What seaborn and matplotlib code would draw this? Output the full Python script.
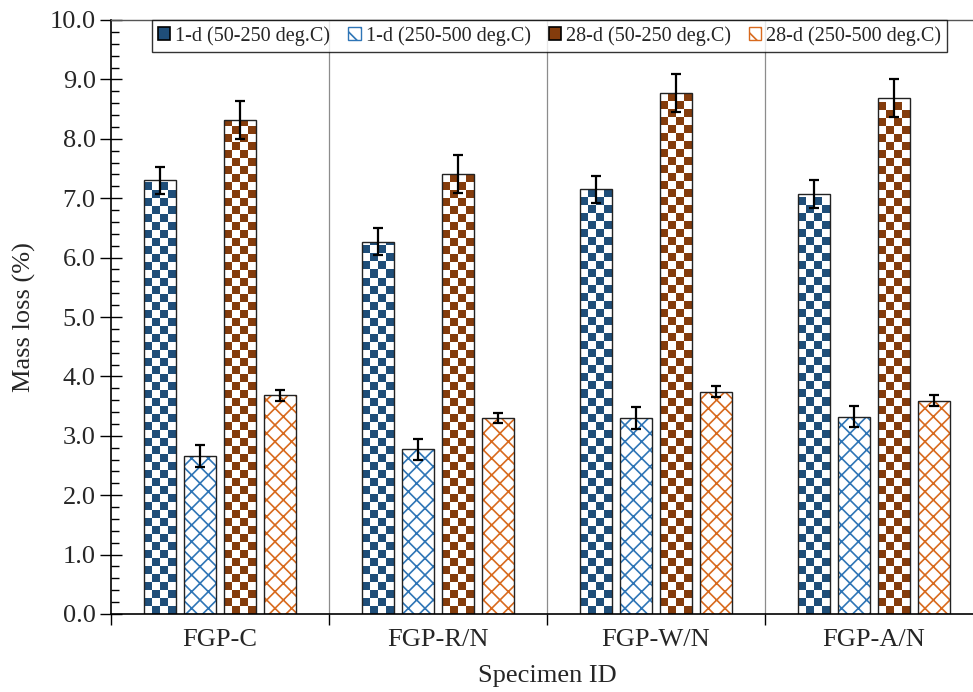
import numpy as np
import pandas as pd
import matplotlib
matplotlib.use("Agg")
import matplotlib.pyplot as plt
from matplotlib.patches import Patch, Rectangle
from matplotlib.colors import ListedColormap
from matplotlib.ticker import MultipleLocator, FixedLocator, NullFormatter
import seaborn as sns

# ---------------- data ----------------
specimens = ["FGP-C", "FGP-R/N", "FGP-W/N", "FGP-A/N"]
series = ["1-d (50-250 deg.C)", "1-d (250-500 deg.C)",
          "28-d (50-250 deg.C)", "28-d (250-500 deg.C)"]
d1_low = [7.30, 6.27, 7.15, 7.07]
d1_high = [2.66, 2.77, 3.30, 3.32]
d28_low = [8.31, 7.40, 8.77, 8.68]
d28_high = [3.68, 3.30, 3.74, 3.59]
err_d1_low = [0.23, 0.23, 0.23, 0.23]
err_d1_high = [0.18, 0.18, 0.18, 0.18]
err_d28_low = [0.32, 0.32, 0.32, 0.32]
err_d28_high = [0.09, 0.09, 0.09, 0.09]

values = [d1_low, d1_high, d28_low, d28_high]
errors = [err_d1_low, err_d1_high, err_d28_low, err_d28_high]
colors = ["#1F4E79", "#2E75B6", "#843C0C", "#D86A1E"]
checker = [True, False, True, False]

rows = []
for s, vals in zip(series, values):
    for sp, v in zip(specimens, vals):
        rows.append({"Specimen": sp, "Series": s, "Mass": v})
df = pd.DataFrame(rows)

# ---------------- style ----------------
sns.set_theme(style="white")
plt.rcParams["font.family"] = ["Liberation Serif", "DejaVu Serif"]
plt.rcParams["hatch.linewidth"] = 1.2

W, H = 973, 692
fig = plt.figure(figsize=(W / 100, H / 100), dpi=100)
ax_left, ax_bottom = 111 / W, 78 / H
ax_w, ax_h = 872 / W, 594 / H
ax = fig.add_axes([ax_left, ax_bottom, ax_w, ax_h])

sns.barplot(data=df, x="Specimen", y="Mass", hue="Series", order=specimens,
            hue_order=series, palette=colors, width=0.73, gap=0.2,
            errorbar=None, legend=False, ax=ax)

ax.set_xlim(-0.5, 3.5)
ax.set_ylim(0, 10)

px_x = ax_w * W / 4.0      # pixels per x data unit
px_y = ax_h * H / 10.0     # pixels per y data unit
sq = 8.0                   # checker square size in pixels

bars = ax.patches[:16]
for si in range(4):
    for ci in range(4):
        p = bars[si * 4 + ci]
        x0, y0 = p.get_x(), p.get_y()
        w, h = p.get_width(), p.get_height()
        if checker[si]:
            p.set_facecolor("white")
            p.set_edgecolor("none")
            nx = max(1, int(round(w * px_x / sq)))
            ny = max(1, int(round(h * px_y / sq)))
            arr = (np.add.outer(np.arange(ny), np.arange(nx)) % 2)
            cmap = ListedColormap(["white", colors[si]])
            im = ax.imshow(arr, extent=(x0, x0 + w, y0, y0 + ny * sq / px_y),
                           origin="lower", cmap=cmap, interpolation="nearest",
                           aspect="auto", zorder=p.get_zorder() + 0.1)
            im.set_clip_path(p)
        else:
            p.set_facecolor("white")
            p.set_edgecolor(colors[si])
            p.set_hatch("xx")
            p.set_linewidth(0)
        ax.add_patch(Rectangle((x0, y0), w, h, fill=False, edgecolor="#222222",
                               linewidth=1.0, zorder=p.get_zorder() + 0.2))
        ax.errorbar(x0 + w / 2, values[si][ci], yerr=errors[si][ci], fmt="none",
                    ecolor="black", elinewidth=1.6, capsize=3.5, capthick=1.6,
                    zorder=5)

ax.set_xlim(-0.5, 3.5)
ax.set_ylim(0, 10)

# separators
for b in [0.5, 1.5, 2.5]:
    ax.axvline(b, color="#8c8c8c", linewidth=0.9, zorder=0.5)

# ticks
ax.xaxis.set_major_locator(FixedLocator([-0.5, 0.5, 1.5, 2.5, 3.5]))
ax.xaxis.set_major_formatter(NullFormatter())
ax.xaxis.set_minor_locator(FixedLocator([0, 1, 2, 3]))
ax.set_xticklabels(specimens, minor=True)
ax.tick_params(axis="x", which="major", direction="out", length=8, width=1,
               color="black", bottom=True)
ax.tick_params(axis="x", which="minor", length=0, labelsize=19, pad=11)

ax.yaxis.set_major_locator(MultipleLocator(1.0))
ax.yaxis.set_minor_locator(MultipleLocator(0.2))
ax.yaxis.set_major_formatter(matplotlib.ticker.FormatStrFormatter("%.1f"))
ax.tick_params(axis="y", which="major", direction="inout", length=16, width=1,
               labelsize=19, left=True, color="black", pad=3)
ax.tick_params(axis="y", which="minor", direction="in", length=6, width=1,
               left=True, color="black")

for side in ["left", "bottom"]:
    ax.spines[side].set_color("black")
    ax.spines[side].set_linewidth(1.2)
ax.spines["top"].set_color("#555555")
ax.spines["top"].set_linewidth(1.0)
ax.spines["right"].set_visible(False)

ax.set_xlabel("Specimen ID", fontsize=19, labelpad=10)
ax.set_ylabel("Mass loss (%)", fontsize=19, labelpad=10)

# legend
handles = []
for si in range(4):
    if checker[si]:
        handles.append(Patch(facecolor=colors[si], edgecolor="black", linewidth=1.2))
    else:
        handles.append(Patch(facecolor="white", edgecolor=colors[si], hatch="\\\\"))
leg = ax.legend(handles, series, loc="upper center", bbox_to_anchor=(0.503, 1.0),
                ncol=4, frameon=True, fancybox=False, fontsize=14.5,
                handlelength=0.6, handleheight=0.6, handletextpad=0.25,
                columnspacing=0.9, borderpad=0.3, borderaxespad=0)
leg.get_frame().set_edgecolor("black")
leg.get_frame().set_linewidth(1.0)

fig.savefig("out.png", dpi=100)
